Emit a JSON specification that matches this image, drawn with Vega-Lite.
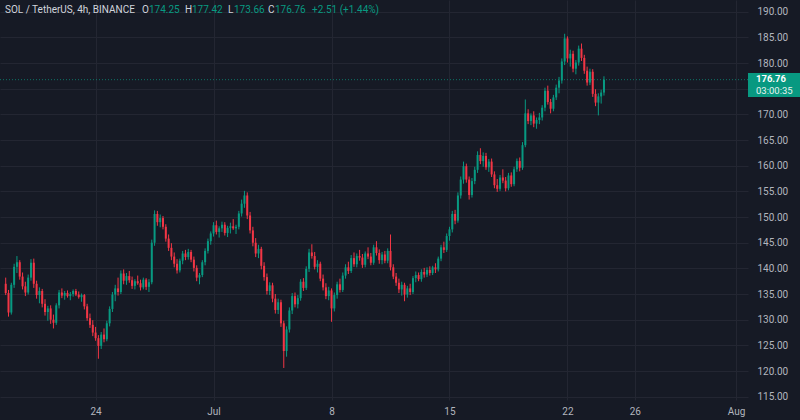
{
"$schema": "https://vega.github.io/schema/vega-lite/v6.json",
"width": 748, "height": 400,
"autosize": "none",
"padding": {"left": 0, "top": 0, "right": 52, "bottom": 20},
"background": "#161a25",
"config": {"view": {"stroke": null}, "font": "Roboto",
  "axisX": {"labelColor": "#b2b5be", "labelFontSize": 10, "labelPadding": 6, "ticks": false, "domain": false, "gridColor": "#232632", "labelFlush": false, "labelOverlap": false, "title": null},
  "axisY": {"labelColor": "#b2b5be", "labelFontSize": 10, "labelPadding": 9, "ticks": false, "domain": false, "gridColor": "#232632", "labelOverlap": false, "title": null}},
"datasets": {"candles": [
{"t":"2024-06-18T16:00","o":137,"h":138.2,"l":134.8,"c":135.2},
{"t":"2024-06-18T20:00","o":135.2,"h":135.8,"l":130.6,"c":131.4},
{"t":"2024-06-19T00:00","o":131.4,"h":137.2,"l":131,"c":136.8},
{"t":"2024-06-19T04:00","o":136.8,"h":140.9,"l":136.2,"c":140.3},
{"t":"2024-06-19T08:00","o":140.3,"h":142.4,"l":139.1,"c":141.2},
{"t":"2024-06-19T12:00","o":141.2,"h":141.6,"l":137.8,"c":138.4},
{"t":"2024-06-19T16:00","o":138.4,"h":139.2,"l":135.9,"c":136.5},
{"t":"2024-06-19T20:00","o":136.5,"h":137.4,"l":134.6,"c":135.3},
{"t":"2024-06-20T00:00","o":135.3,"h":138.8,"l":134.9,"c":138.2},
{"t":"2024-06-20T04:00","o":138.2,"h":141.8,"l":137.6,"c":141.1},
{"t":"2024-06-20T08:00","o":141.1,"h":141.9,"l":136.2,"c":137.0},
{"t":"2024-06-20T12:00","o":137.0,"h":137.6,"l":134.1,"c":134.8},
{"t":"2024-06-20T16:00","o":134.8,"h":136.3,"l":133.2,"c":135.6},
{"t":"2024-06-20T20:00","o":135.6,"h":136.0,"l":132.4,"c":133.1},
{"t":"2024-06-21T00:00","o":133.1,"h":134.0,"l":130.8,"c":131.5},
{"t":"2024-06-21T04:00","o":131.5,"h":132.7,"l":129.8,"c":132.2},
{"t":"2024-06-21T08:00","o":132.2,"h":132.8,"l":129.2,"c":130.0},
{"t":"2024-06-21T12:00","o":130.0,"h":131.0,"l":128.3,"c":129.4},
{"t":"2024-06-21T16:00","o":129.4,"h":133.2,"l":129.0,"c":132.8},
{"t":"2024-06-21T20:00","o":132.8,"h":135.8,"l":132.2,"c":135.3},
{"t":"2024-06-22T00:00","o":135.3,"h":136.1,"l":134.2,"c":134.7},
{"t":"2024-06-22T04:00","o":134.7,"h":135.6,"l":133.9,"c":135.2},
{"t":"2024-06-22T08:00","o":135.2,"h":135.7,"l":134.3,"c":134.6},
{"t":"2024-06-22T12:00","o":134.6,"h":135.4,"l":133.8,"c":135.0},
{"t":"2024-06-22T16:00","o":135.0,"h":135.9,"l":134.5,"c":135.6},
{"t":"2024-06-22T20:00","o":135.6,"h":136.0,"l":134.6,"c":134.9},
{"t":"2024-06-23T00:00","o":134.9,"h":135.5,"l":134.1,"c":134.4},
{"t":"2024-06-23T04:00","o":134.4,"h":135.1,"l":133.5,"c":134.8},
{"t":"2024-06-23T08:00","o":134.8,"h":135.0,"l":132.0,"c":132.6},
{"t":"2024-06-23T12:00","o":132.6,"h":133.1,"l":129.8,"c":130.3},
{"t":"2024-06-23T16:00","o":130.3,"h":131.2,"l":128.4,"c":129.0},
{"t":"2024-06-23T20:00","o":129.0,"h":129.9,"l":126.8,"c":127.5},
{"t":"2024-06-24T00:00","o":127.5,"h":128.6,"l":125.9,"c":126.4},
{"t":"2024-06-24T04:00","o":126.4,"h":127.0,"l":122.4,"c":124.9},
{"t":"2024-06-24T08:00","o":124.9,"h":127.6,"l":124.3,"c":127.1},
{"t":"2024-06-24T12:00","o":127.1,"h":128.3,"l":125.6,"c":126.2},
{"t":"2024-06-24T16:00","o":126.2,"h":129.8,"l":125.8,"c":129.3},
{"t":"2024-06-24T20:00","o":129.3,"h":132.6,"l":128.7,"c":132.1},
{"t":"2024-06-25T00:00","o":132.1,"h":135.4,"l":131.5,"c":134.9},
{"t":"2024-06-25T04:00","o":134.9,"h":136.8,"l":133.6,"c":136.1},
{"t":"2024-06-25T08:00","o":136.1,"h":138.2,"l":134.7,"c":135.4},
{"t":"2024-06-25T12:00","o":135.4,"h":139.6,"l":135.0,"c":139.0},
{"t":"2024-06-25T16:00","o":139.0,"h":139.8,"l":136.9,"c":137.6},
{"t":"2024-06-25T20:00","o":137.6,"h":139.1,"l":136.8,"c":138.5},
{"t":"2024-06-26T00:00","o":138.5,"h":139.5,"l":137.2,"c":137.7},
{"t":"2024-06-26T04:00","o":137.7,"h":138.4,"l":136.0,"c":136.6},
{"t":"2024-06-26T08:00","o":136.6,"h":137.9,"l":135.9,"c":137.5},
{"t":"2024-06-26T12:00","o":137.5,"h":138.6,"l":136.8,"c":137.1},
{"t":"2024-06-26T16:00","o":137.1,"h":137.8,"l":135.7,"c":136.3},
{"t":"2024-06-26T20:00","o":136.3,"h":138.2,"l":135.9,"c":137.8},
{"t":"2024-06-27T00:00","o":137.8,"h":138.1,"l":135.8,"c":136.4},
{"t":"2024-06-27T04:00","o":136.4,"h":137.9,"l":135.4,"c":137.3},
{"t":"2024-06-27T08:00","o":137.3,"h":145.6,"l":136.9,"c":145.0},
{"t":"2024-06-27T12:00","o":145.0,"h":151.3,"l":144.4,"c":150.6},
{"t":"2024-06-27T16:00","o":150.6,"h":151.2,"l":148.3,"c":149.0},
{"t":"2024-06-27T20:00","o":149.0,"h":150.5,"l":148.0,"c":149.8},
{"t":"2024-06-28T00:00","o":149.8,"h":150.2,"l":147.6,"c":148.1},
{"t":"2024-06-28T04:00","o":148.1,"h":148.6,"l":145.2,"c":145.8},
{"t":"2024-06-28T08:00","o":145.8,"h":146.6,"l":143.4,"c":144.0},
{"t":"2024-06-28T12:00","o":144.0,"h":144.9,"l":141.6,"c":142.3},
{"t":"2024-06-28T16:00","o":142.3,"h":143.1,"l":140.2,"c":140.9},
{"t":"2024-06-28T20:00","o":140.9,"h":141.8,"l":139.0,"c":139.6},
{"t":"2024-06-29T00:00","o":139.6,"h":141.9,"l":139.2,"c":141.5},
{"t":"2024-06-29T04:00","o":141.5,"h":143.4,"l":140.8,"c":142.9},
{"t":"2024-06-29T08:00","o":142.9,"h":143.6,"l":141.6,"c":142.2},
{"t":"2024-06-29T12:00","o":142.2,"h":143.8,"l":141.7,"c":143.2},
{"t":"2024-06-29T16:00","o":143.2,"h":143.6,"l":141.2,"c":141.7},
{"t":"2024-06-29T20:00","o":141.7,"h":142.3,"l":139.4,"c":140.1},
{"t":"2024-06-30T00:00","o":140.1,"h":140.6,"l":137.5,"c":138.2},
{"t":"2024-06-30T04:00","o":138.2,"h":139.1,"l":136.9,"c":138.7},
{"t":"2024-06-30T08:00","o":138.7,"h":141.6,"l":138.3,"c":141.2},
{"t":"2024-06-30T12:00","o":141.2,"h":143.9,"l":140.6,"c":143.4},
{"t":"2024-06-30T16:00","o":143.4,"h":145.8,"l":142.9,"c":145.3},
{"t":"2024-06-30T20:00","o":145.3,"h":147.2,"l":144.6,"c":146.8},
{"t":"2024-07-01T00:00","o":146.8,"h":149.0,"l":146.2,"c":148.4},
{"t":"2024-07-01T04:00","o":148.4,"h":149.3,"l":146.6,"c":147.1},
{"t":"2024-07-01T08:00","o":147.1,"h":148.2,"l":146.0,"c":147.8},
{"t":"2024-07-01T12:00","o":147.8,"h":149.1,"l":147.1,"c":148.5},
{"t":"2024-07-01T16:00","o":148.5,"h":149.0,"l":146.4,"c":146.9},
{"t":"2024-07-01T20:00","o":146.9,"h":148.3,"l":146.1,"c":147.9},
{"t":"2024-07-02T00:00","o":147.9,"h":148.9,"l":146.8,"c":148.2},
{"t":"2024-07-02T04:00","o":148.2,"h":149.6,"l":147.5,"c":147.8},
{"t":"2024-07-02T08:00","o":147.8,"h":148.5,"l":146.7,"c":148.1},
{"t":"2024-07-02T12:00","o":148.1,"h":151.2,"l":147.6,"c":150.7},
{"t":"2024-07-02T16:00","o":150.7,"h":153.4,"l":150.1,"c":152.6},
{"t":"2024-07-02T20:00","o":152.6,"h":155.1,"l":151.8,"c":154.2},
{"t":"2024-07-03T00:00","o":154.2,"h":154.8,"l":149.6,"c":150.3},
{"t":"2024-07-03T04:00","o":150.3,"h":151.0,"l":146.8,"c":147.4},
{"t":"2024-07-03T08:00","o":147.4,"h":148.1,"l":144.3,"c":145.0},
{"t":"2024-07-03T12:00","o":145.0,"h":145.9,"l":142.2,"c":142.9},
{"t":"2024-07-03T16:00","o":142.9,"h":144.6,"l":142.0,"c":143.8},
{"t":"2024-07-03T20:00","o":143.8,"h":144.2,"l":139.8,"c":140.5},
{"t":"2024-07-04T00:00","o":140.5,"h":141.2,"l":137.6,"c":138.3},
{"t":"2024-07-04T04:00","o":138.3,"h":139.0,"l":134.9,"c":135.6},
{"t":"2024-07-04T08:00","o":135.6,"h":137.3,"l":134.8,"c":136.7},
{"t":"2024-07-04T12:00","o":136.7,"h":137.2,"l":133.4,"c":134.1},
{"t":"2024-07-04T16:00","o":134.1,"h":135.0,"l":131.2,"c":131.9},
{"t":"2024-07-04T20:00","o":131.9,"h":134.1,"l":131.1,"c":133.4},
{"t":"2024-07-05T00:00","o":133.4,"h":133.9,"l":128.6,"c":129.3},
{"t":"2024-07-05T04:00","o":129.3,"h":129.8,"l":120.6,"c":123.9},
{"t":"2024-07-05T08:00","o":123.9,"h":128.7,"l":122.8,"c":128.1},
{"t":"2024-07-05T12:00","o":128.1,"h":132.4,"l":127.5,"c":131.8},
{"t":"2024-07-05T16:00","o":131.8,"h":135.2,"l":131.1,"c":134.6},
{"t":"2024-07-05T20:00","o":134.6,"h":135.3,"l":132.4,"c":133.0},
{"t":"2024-07-06T00:00","o":133.0,"h":134.8,"l":132.2,"c":134.2},
{"t":"2024-07-06T04:00","o":134.2,"h":137.9,"l":133.7,"c":137.4},
{"t":"2024-07-06T08:00","o":137.4,"h":138.1,"l":135.6,"c":136.2},
{"t":"2024-07-06T12:00","o":136.2,"h":140.4,"l":135.8,"c":139.9},
{"t":"2024-07-06T16:00","o":139.9,"h":143.8,"l":139.3,"c":143.1},
{"t":"2024-07-06T20:00","o":143.1,"h":144.7,"l":141.9,"c":142.4},
{"t":"2024-07-07T00:00","o":142.4,"h":143.2,"l":139.8,"c":140.3},
{"t":"2024-07-07T04:00","o":140.3,"h":141.6,"l":139.2,"c":140.9},
{"t":"2024-07-07T08:00","o":140.9,"h":141.3,"l":137.5,"c":138.0},
{"t":"2024-07-07T12:00","o":138.0,"h":138.8,"l":135.7,"c":136.3},
{"t":"2024-07-07T16:00","o":136.3,"h":137.1,"l":134.0,"c":134.6},
{"t":"2024-07-07T20:00","o":134.6,"h":136.4,"l":133.8,"c":135.7},
{"t":"2024-07-08T00:00","o":135.7,"h":136.1,"l":129.6,"c":132.2},
{"t":"2024-07-08T04:00","o":132.2,"h":135.3,"l":131.6,"c":134.8},
{"t":"2024-07-08T08:00","o":134.8,"h":137.4,"l":134.1,"c":136.9},
{"t":"2024-07-08T12:00","o":136.9,"h":138.0,"l":135.3,"c":135.8},
{"t":"2024-07-08T16:00","o":135.8,"h":139.2,"l":135.4,"c":138.6},
{"t":"2024-07-08T20:00","o":138.6,"h":140.8,"l":138.0,"c":140.2},
{"t":"2024-07-09T00:00","o":140.2,"h":141.3,"l":138.9,"c":139.5},
{"t":"2024-07-09T04:00","o":139.5,"h":142.6,"l":139.1,"c":142.0},
{"t":"2024-07-09T08:00","o":142.0,"h":143.1,"l":140.3,"c":140.8},
{"t":"2024-07-09T12:00","o":140.8,"h":142.9,"l":140.2,"c":142.4},
{"t":"2024-07-09T16:00","o":142.4,"h":143.6,"l":141.5,"c":142.1},
{"t":"2024-07-09T20:00","o":142.1,"h":142.8,"l":140.1,"c":140.7},
{"t":"2024-07-10T00:00","o":140.7,"h":143.3,"l":140.2,"c":142.9},
{"t":"2024-07-10T04:00","o":142.9,"h":144.1,"l":141.8,"c":142.3},
{"t":"2024-07-10T08:00","o":142.3,"h":143.0,"l":140.6,"c":141.1},
{"t":"2024-07-10T12:00","o":141.1,"h":144.6,"l":140.7,"c":144.1},
{"t":"2024-07-10T16:00","o":144.1,"h":145.3,"l":142.5,"c":143.0},
{"t":"2024-07-10T20:00","o":143.0,"h":143.7,"l":140.9,"c":141.6},
{"t":"2024-07-11T00:00","o":141.6,"h":143.2,"l":140.8,"c":142.7},
{"t":"2024-07-11T04:00","o":142.7,"h":143.4,"l":141.0,"c":141.5},
{"t":"2024-07-11T08:00","o":141.5,"h":143.9,"l":141.0,"c":143.4},
{"t":"2024-07-11T12:00","o":143.4,"h":146.6,"l":139.6,"c":140.2},
{"t":"2024-07-11T16:00","o":140.2,"h":140.8,"l":137.9,"c":138.4},
{"t":"2024-07-11T20:00","o":138.4,"h":139.1,"l":136.6,"c":137.2},
{"t":"2024-07-12T00:00","o":137.2,"h":138.0,"l":135.2,"c":135.9},
{"t":"2024-07-12T04:00","o":135.9,"h":137.4,"l":134.7,"c":136.8},
{"t":"2024-07-12T08:00","o":136.8,"h":137.2,"l":133.6,"c":134.9},
{"t":"2024-07-12T12:00","o":134.9,"h":136.6,"l":134.3,"c":136.1},
{"t":"2024-07-12T16:00","o":136.1,"h":137.0,"l":134.8,"c":135.4},
{"t":"2024-07-12T20:00","o":135.4,"h":138.5,"l":135.0,"c":138.1},
{"t":"2024-07-13T00:00","o":138.1,"h":139.4,"l":137.3,"c":138.7},
{"t":"2024-07-13T04:00","o":138.7,"h":139.2,"l":137.5,"c":137.9},
{"t":"2024-07-13T08:00","o":137.9,"h":139.8,"l":137.4,"c":139.3},
{"t":"2024-07-13T12:00","o":139.3,"h":140.1,"l":138.2,"c":138.8},
{"t":"2024-07-13T16:00","o":138.8,"h":140.2,"l":138.3,"c":139.7},
{"t":"2024-07-13T20:00","o":139.7,"h":140.4,"l":138.6,"c":139.1},
{"t":"2024-07-14T00:00","o":139.1,"h":140.5,"l":138.7,"c":140.2},
{"t":"2024-07-14T04:00","o":140.2,"h":141.0,"l":139.1,"c":139.8},
{"t":"2024-07-14T08:00","o":139.8,"h":142.3,"l":139.4,"c":141.9},
{"t":"2024-07-14T12:00","o":141.9,"h":144.6,"l":141.4,"c":144.1},
{"t":"2024-07-14T16:00","o":144.1,"h":145.2,"l":143.0,"c":143.6},
{"t":"2024-07-14T20:00","o":143.6,"h":146.8,"l":143.2,"c":146.3},
{"t":"2024-07-15T00:00","o":146.3,"h":148.1,"l":145.4,"c":147.6},
{"t":"2024-07-15T04:00","o":147.6,"h":151.2,"l":147.0,"c":150.6},
{"t":"2024-07-15T08:00","o":150.6,"h":151.4,"l":148.6,"c":149.3},
{"t":"2024-07-15T12:00","o":149.3,"h":154.8,"l":148.9,"c":154.2},
{"t":"2024-07-15T16:00","o":154.2,"h":157.9,"l":153.6,"c":157.3},
{"t":"2024-07-15T20:00","o":157.3,"h":160.8,"l":156.5,"c":159.9},
{"t":"2024-07-16T00:00","o":159.9,"h":160.4,"l":156.7,"c":157.3},
{"t":"2024-07-16T04:00","o":157.3,"h":157.9,"l":153.4,"c":154.3},
{"t":"2024-07-16T08:00","o":154.3,"h":157.6,"l":153.8,"c":157.0},
{"t":"2024-07-16T12:00","o":157.0,"h":159.8,"l":156.4,"c":159.2},
{"t":"2024-07-16T16:00","o":159.2,"h":162.8,"l":158.6,"c":162.1},
{"t":"2024-07-16T20:00","o":162.1,"h":163.4,"l":160.3,"c":160.9},
{"t":"2024-07-17T00:00","o":160.9,"h":162.6,"l":159.8,"c":161.9},
{"t":"2024-07-17T04:00","o":161.9,"h":162.5,"l":159.2,"c":159.7},
{"t":"2024-07-17T08:00","o":159.7,"h":161.3,"l":158.8,"c":160.8},
{"t":"2024-07-17T12:00","o":160.8,"h":161.4,"l":157.8,"c":158.3},
{"t":"2024-07-17T16:00","o":158.3,"h":158.9,"l":155.6,"c":156.2},
{"t":"2024-07-17T20:00","o":156.2,"h":157.4,"l":154.9,"c":155.5},
{"t":"2024-07-18T00:00","o":155.5,"h":158.2,"l":155.1,"c":157.7},
{"t":"2024-07-18T04:00","o":157.7,"h":159.3,"l":156.6,"c":157.1},
{"t":"2024-07-18T08:00","o":157.1,"h":157.8,"l":155.0,"c":155.6},
{"t":"2024-07-18T12:00","o":155.6,"h":158.6,"l":155.2,"c":158.1},
{"t":"2024-07-18T16:00","o":158.1,"h":158.7,"l":155.9,"c":156.4},
{"t":"2024-07-18T20:00","o":156.4,"h":159.8,"l":156.0,"c":159.3},
{"t":"2024-07-19T00:00","o":159.3,"h":161.4,"l":158.8,"c":160.9},
{"t":"2024-07-19T04:00","o":160.9,"h":161.6,"l":158.9,"c":159.6},
{"t":"2024-07-19T08:00","o":159.6,"h":164.6,"l":159.2,"c":164.0},
{"t":"2024-07-19T12:00","o":164.0,"h":172.9,"l":163.6,"c":170.2},
{"t":"2024-07-19T16:00","o":170.2,"h":171.0,"l":168.1,"c":168.7},
{"t":"2024-07-19T20:00","o":168.7,"h":170.2,"l":167.9,"c":169.8},
{"t":"2024-07-20T00:00","o":169.8,"h":170.6,"l":167.5,"c":168.2},
{"t":"2024-07-20T04:00","o":168.2,"h":169.4,"l":167.2,"c":168.9},
{"t":"2024-07-20T08:00","o":168.9,"h":170.3,"l":168.1,"c":169.4},
{"t":"2024-07-20T12:00","o":169.4,"h":171.8,"l":168.8,"c":171.3},
{"t":"2024-07-20T16:00","o":171.3,"h":175.2,"l":170.6,"c":174.6},
{"t":"2024-07-20T20:00","o":174.6,"h":175.6,"l":171.9,"c":172.4},
{"t":"2024-07-21T00:00","o":172.4,"h":173.0,"l":170.2,"c":171.1},
{"t":"2024-07-21T04:00","o":171.1,"h":173.8,"l":170.6,"c":173.3},
{"t":"2024-07-21T08:00","o":173.3,"h":175.8,"l":172.8,"c":175.2},
{"t":"2024-07-21T12:00","o":175.2,"h":177.3,"l":174.1,"c":176.6},
{"t":"2024-07-21T16:00","o":176.6,"h":180.9,"l":176.0,"c":180.3},
{"t":"2024-07-21T20:00","o":180.3,"h":185.7,"l":179.6,"c":184.8},
{"t":"2024-07-22T00:00","o":184.8,"h":185.2,"l":180.1,"c":180.9},
{"t":"2024-07-22T04:00","o":180.9,"h":182.6,"l":179.3,"c":181.8},
{"t":"2024-07-22T08:00","o":181.8,"h":182.4,"l":178.2,"c":178.9},
{"t":"2024-07-22T12:00","o":178.9,"h":180.6,"l":177.8,"c":180.1},
{"t":"2024-07-22T16:00","o":180.1,"h":183.4,"l":179.5,"c":182.8},
{"t":"2024-07-22T20:00","o":182.8,"h":183.8,"l":180.4,"c":181.0},
{"t":"2024-07-23T00:00","o":181.0,"h":181.6,"l":177.9,"c":178.5},
{"t":"2024-07-23T04:00","o":178.5,"h":179.3,"l":175.6,"c":176.2},
{"t":"2024-07-23T08:00","o":176.2,"h":178.9,"l":175.7,"c":178.3},
{"t":"2024-07-23T12:00","o":178.3,"h":178.8,"l":173.4,"c":174.0},
{"t":"2024-07-23T16:00","o":174.0,"h":174.9,"l":171.6,"c":172.3},
{"t":"2024-07-23T20:00","o":172.3,"h":174.1,"l":169.8,"c":173.5},
{"t":"2024-07-24T00:00","o":173.5,"h":174.8,"l":172.1,"c":174.25},
{"t":"2024-07-24T04:00","o":174.25,"h":177.42,"l":173.66,"c":176.76}
]},
"layer": [
{"data": {"name": "candles"},
 "mark": {"type": "rule", "strokeWidth": 1},
 "encoding": {
  "x": {"field": "t", "type": "temporal",
        "scale": {"domain": [{"year": 2024, "month": 6, "date": 18, "hours": 15}, {"year": 2024, "month": 8, "date": 1, "hours": 10}]},
        "axis": {"orient": "bottom",
                 "values": [{"year": 2024, "month": 6, "date": 24}, {"year": 2024, "month": 7, "date": 1}, {"year": 2024, "month": 7, "date": 8}, {"year": 2024, "month": 7, "date": 15}, {"year": 2024, "month": 7, "date": 22}, {"year": 2024, "month": 7, "date": 26}, {"year": 2024, "month": 8, "date": 1}],
                 "labelExpr": "date(datum.value) == 1 ? timeFormat(datum.value, '%b') : timeFormat(datum.value, '%-d')"}},
  "y": {"field": "l", "type": "quantitative",
        "scale": {"domain": [114.36, 192.28], "nice": false, "zero": false},
        "axis": {"orient": "right",
                 "values": [115, 120, 125, 130, 135, 140, 145, 150, 155, 160, 165, 170, 175, 180, 185, 190],
                 "labelExpr": "datum.value == 175 ? '' : format(datum.value, '.2f')"}},
  "y2": {"field": "h"},
  "color": {"condition": {"test": "datum.c >= datum.o", "value": "#089981"}, "value": "#f23645"}
 }},
{"data": {"name": "candles"},
 "mark": {"type": "bar", "size": 2},
 "encoding": {
  "x": {"field": "t", "type": "temporal",
        "axis": {"orient": "bottom",
                 "values": [{"year": 2024, "month": 6, "date": 24}, {"year": 2024, "month": 7, "date": 1}, {"year": 2024, "month": 7, "date": 8}, {"year": 2024, "month": 7, "date": 15}, {"year": 2024, "month": 7, "date": 22}, {"year": 2024, "month": 7, "date": 26}, {"year": 2024, "month": 8, "date": 1}],
                 "labelExpr": "date(datum.value) == 1 ? timeFormat(datum.value, '%b') : timeFormat(datum.value, '%-d')"}},
  "y": {"field": "o", "type": "quantitative",
        "axis": {"orient": "right",
                 "values": [115, 120, 125, 130, 135, 140, 145, 150, 155, 160, 165, 170, 175, 180, 185, 190],
                 "labelExpr": "datum.value == 175 ? '' : format(datum.value, '.2f')"}},
  "y2": {"field": "c"},
  "color": {"condition": {"test": "datum.c >= datum.o", "value": "#089981"}, "value": "#f23645"}
 }},
{"data": {"values": [{"p": 176.76}]},
 "mark": {"type": "rule", "color": "#089981", "opacity": 0.7, "strokeDash": [1, 2], "strokeWidth": 1},
 "encoding": {"y": {"field": "p", "type": "quantitative",
        "axis": {"orient": "right",
                 "values": [115, 120, 125, 130, 135, 140, 145, 150, 155, 160, 165, 170, 175, 180, 185, 190],
                 "labelExpr": "datum.value == 175 ? '' : format(datum.value, '.2f')"}}}},
{"data": {"values": [{"p": 176.76}]},
 "mark": {"type": "rect", "color": "#089981", "clip": false},
 "encoding": {"x": {"value": 748}, "x2": {"value": 800}, "y": {"value": 73}, "y2": {"value": 97}}},
{"data": {"values": [{"p": "176.76"}]},
 "mark": {"type": "text", "align": "left", "baseline": "middle", "color": "#ffffff", "fontSize": 9.5, "fontWeight": "bold"},
 "encoding": {"x": {"value": 756}, "y": {"value": 79}, "text": {"field": "p"}}},
{"data": {"values": [{"p": "03:00:35"}]},
 "mark": {"type": "text", "align": "left", "baseline": "middle", "color": "#e8f3f0", "fontSize": 9.5},
 "encoding": {"x": {"value": 756}, "y": {"value": 91}, "text": {"field": "p"}}},
{"data": {"values": [{"s": "SOL / TetherUS, 4h, BINANCE"}]},
 "mark": {"type": "text", "align": "left", "baseline": "middle", "color": "#d1d4dc", "fontSize": 10},
 "encoding": {"x": {"value": 5}, "y": {"value": 10}, "text": {"field": "s"}}},
{"data": {"values": [{"s": "O"}]},
 "mark": {"type": "text", "align": "left", "baseline": "middle", "color": "#d1d4dc", "fontSize": 10},
 "encoding": {"x": {"value": 142}, "y": {"value": 10}, "text": {"field": "s"}}},
{"data": {"values": [{"s": "174.25"}]},
 "mark": {"type": "text", "align": "left", "baseline": "middle", "color": "#089981", "fontSize": 10},
 "encoding": {"x": {"value": 149}, "y": {"value": 10}, "text": {"field": "s"}}},
{"data": {"values": [{"s": "H"}]},
 "mark": {"type": "text", "align": "left", "baseline": "middle", "color": "#d1d4dc", "fontSize": 10},
 "encoding": {"x": {"value": 185}, "y": {"value": 10}, "text": {"field": "s"}}},
{"data": {"values": [{"s": "177.42"}]},
 "mark": {"type": "text", "align": "left", "baseline": "middle", "color": "#089981", "fontSize": 10},
 "encoding": {"x": {"value": 192}, "y": {"value": 10}, "text": {"field": "s"}}},
{"data": {"values": [{"s": "L"}]},
 "mark": {"type": "text", "align": "left", "baseline": "middle", "color": "#d1d4dc", "fontSize": 10},
 "encoding": {"x": {"value": 228}, "y": {"value": 10}, "text": {"field": "s"}}},
{"data": {"values": [{"s": "173.66"}]},
 "mark": {"type": "text", "align": "left", "baseline": "middle", "color": "#089981", "fontSize": 10},
 "encoding": {"x": {"value": 234}, "y": {"value": 10}, "text": {"field": "s"}}},
{"data": {"values": [{"s": "C"}]},
 "mark": {"type": "text", "align": "left", "baseline": "middle", "color": "#d1d4dc", "fontSize": 10},
 "encoding": {"x": {"value": 268}, "y": {"value": 10}, "text": {"field": "s"}}},
{"data": {"values": [{"s": "176.76"}]},
 "mark": {"type": "text", "align": "left", "baseline": "middle", "color": "#089981", "fontSize": 10},
 "encoding": {"x": {"value": 275}, "y": {"value": 10}, "text": {"field": "s"}}},
{"data": {"values": [{"s": "+2.51 (+1.44%)"}]},
 "mark": {"type": "text", "align": "left", "baseline": "middle", "color": "#089981", "fontSize": 10},
 "encoding": {"x": {"value": 312}, "y": {"value": 10}, "text": {"field": "s"}}}
]
}
